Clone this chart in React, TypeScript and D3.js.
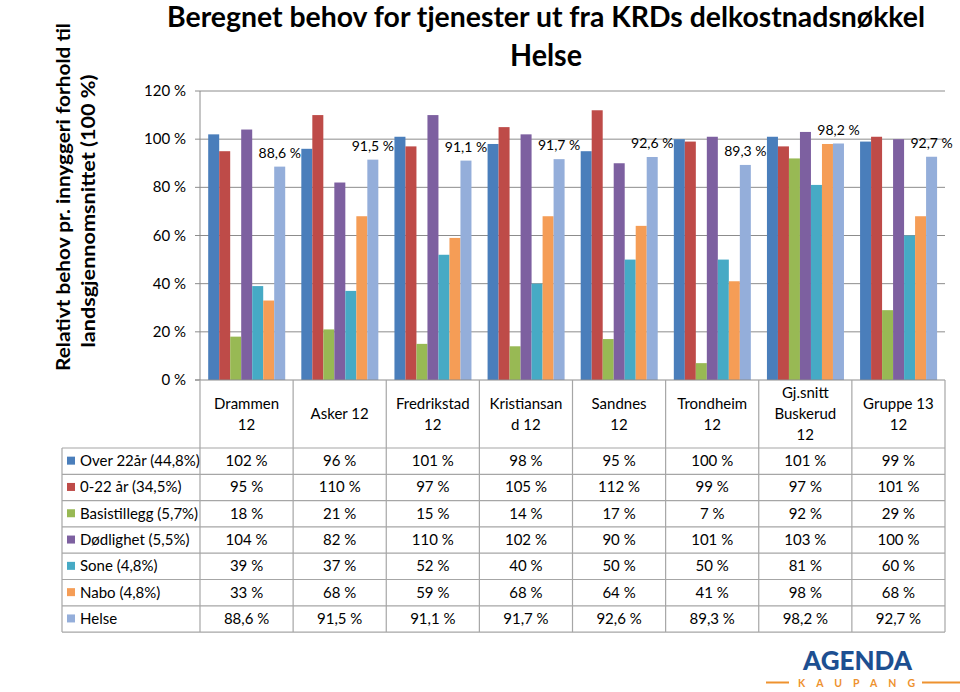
import React from "react";
import * as d3 from "d3";

const categories = [
  "Drammen\n12",
  "Asker 12",
  "Fredrikstad\n12",
  "Kristiansan\nd 12",
  "Sandnes\n12",
  "Trondheim\n12",
  "Gj.snitt\nBuskerud\n12",
  "Gruppe 13\n12",
];

const seriesNames = [
  "Over 22år (44,8%)",
  "0-22 år (34,5%)",
  "Basistillegg (5,7%)",
  "Dødlighet (5,5%)",
  "Sone (4,8%)",
  "Nabo (4,8%)",
  "Helse",
];

const seriesColors = ["#4A7EBB", "#BE4B48", "#98B954", "#7D60A0", "#46AAC5", "#F59D56", "#94AEDA"];

const over22 = [102, 96, 101, 98, 95, 100, 101, 99];
const age0to22 = [95, 110, 97, 105, 112, 99, 97, 101];
const basistillegg = [18, 21, 15, 14, 17, 7, 92, 29];
const dodlighet = [104, 82, 110, 102, 90, 101, 103, 100];
const sone = [39, 37, 52, 40, 50, 50, 81, 60];
const nabo = [33, 68, 59, 68, 64, 41, 98, 68];
const helse = [88.6, 91.5, 91.1, 91.7, 92.6, 89.3, 98.2, 92.7];

const seriesValues = [over22, age0to22, basistillegg, dodlighet, sone, nabo, helse];
const seriesDecimals = [0, 0, 0, 0, 0, 0, 1];

const yTicks = [0, 20, 40, 60, 80, 100, 120];

const FONT = "Lato, 'Open Sans', sans-serif";

const fmt = (v: number, d: number) => v.toFixed(d).replace(".", ",") + " %";

export default function App() {
  const W = 960;
  const H = 692;
  const plotLeft = 200;
  const plotRight = 945;
  const y0 = 380;
  const yTop = 91;
  const tableLeft = 62;
  const headerBottom = 448;
  const rowH = 26.3;

  const y = d3.scaleLinear().domain([0, 120]).range([y0, yTop]);
  const x = d3.scaleBand<string>().domain(categories).range([plotLeft, plotRight]).padding(0);
  const bw = x.bandwidth();
  const xs = d3
    .scaleBand<string>()
    .domain(seriesNames)
    .range([bw * 0.088, bw * 0.915])
    .padding(0);

  const gridColor = "#8C8C8C";
  const tableColor = "#A6A6A6";

  const tableBottom = headerBottom + rowH * seriesNames.length;

  return (
    <svg
      width={W}
      height={H}
      viewBox={`0 0 ${W} ${H}`}
      style={{ position: "absolute", left: 0, top: 0, background: "#fff" }}
      fontFamily={FONT}
    >
      <rect x={0} y={0} width={W} height={H} fill="#fff" />
      {/* Title */}
      <text x={546} y={27} fontSize={28} fontWeight="bold" textAnchor="middle" textLength={758} lengthAdjust="spacingAndGlyphs" fill="#000">
        Beregnet behov for tjenester ut fra KRDs delkostnadsnøkkel
      </text>
      <text x={546} y={66} fontSize={30} fontWeight="bold" textAnchor="middle" textLength={72} lengthAdjust="spacingAndGlyphs" fill="#000">
        Helse
      </text>

      {/* Y axis title */}
      <g transform="translate(70,197) rotate(-90)">
        <text x={0} y={0} fontSize={19} fontWeight="bold" textAnchor="middle" textLength={348} lengthAdjust="spacingAndGlyphs">
          Relativt behov pr. innyggeri forhold til
        </text>
      </g>
      <g transform="translate(95,211) rotate(-90)">
        <text x={0} y={0} fontSize={19} fontWeight="bold" textAnchor="middle" textLength={273} lengthAdjust="spacingAndGlyphs">
          landsgjennomsnittet (100 %)
        </text>
      </g>

      {/* Gridlines and y ticks */}
      {yTicks.map((t) => (
        <g key={t}>
          {t > 0 && <line x1={plotLeft} x2={plotRight} y1={y(t)} y2={y(t)} stroke={gridColor} strokeWidth={1} />}
          <line x1={plotLeft - 5} x2={plotLeft} y1={y(t)} y2={y(t)} stroke={gridColor} strokeWidth={1} />
          <text x={186} y={y(t) + 5} fontSize={15} textAnchor="end" fill="#000">
            {t} %
          </text>
        </g>
      ))}
      <line x1={plotLeft} x2={plotLeft} y1={yTop} y2={y0} stroke={gridColor} strokeWidth={1} />

      {/* Bars */}
      {categories.map((c, ci) => (
        <g key={c} transform={`translate(${x(c)},0)`}>
          {seriesNames.map((s, si) => {
            const v = seriesValues[si][ci];
            return (
              <rect
                key={s}
                x={xs(s)}
                y={y(v)}
                width={xs.bandwidth()}
                height={y0 - y(v)}
                fill={seriesColors[si]}
              />
            );
          })}
          <text
            x={(xs("Helse") as number) + xs.bandwidth() / 2}
            y={y(helse[ci]) - 9}
            fontSize={14}
            textAnchor="middle"
            fill="#000"
          >
            {fmt(helse[ci], 1)}
          </text>
        </g>
      ))}

      {/* Axis line */}
      <line x1={plotLeft - 5} x2={plotRight} y1={y0} y2={y0} stroke={gridColor} strokeWidth={1} />

      {/* Table */}
      <g stroke={tableColor} strokeWidth={1.2} fill="none">
        {categories.map((c) => (
          <line key={c} x1={x(c)} x2={x(c)} y1={y0} y2={tableBottom} />
        ))}
        <line x1={plotRight} x2={plotRight} y1={y0} y2={tableBottom} />
        <line x1={tableLeft} x2={tableLeft} y1={headerBottom} y2={tableBottom} />
        {d3.range(seriesNames.length + 1).map((i) => (
          <line key={i} x1={tableLeft} x2={plotRight} y1={headerBottom + i * rowH} y2={headerBottom + i * rowH} />
        ))}
      </g>

      {/* Header labels */}
      {categories.map((c) => {
        const lines = c.split("\n");
        const cx = (x(c) as number) + bw / 2;
        const mid = (y0 + headerBottom) / 2;
        const lh = 21;
        return (
          <text key={c} fontSize={15} textAnchor="middle" fill="#000">
            {lines.map((l, li) => (
              <tspan key={li} x={cx} y={mid + (li - (lines.length - 1) / 2) * lh + 5}>
                {l}
              </tspan>
            ))}
          </text>
        );
      })}

      {/* Rows */}
      {seriesNames.map((s, si) => {
        const cy = headerBottom + si * rowH + rowH / 2;
        return (
          <g key={s}>
            <rect x={67} y={cy - 4.5} width={8} height={8} fill={seriesColors[si]} />
            <text x={80} y={cy + 5} fontSize={15} fill="#000">
              {s}
            </text>
            {categories.map((c, ci) => (
              <text key={c} x={(x(c) as number) + bw / 2} y={cy + 5} fontSize={15} textAnchor="middle" fill="#000">
                {fmt(seriesValues[si][ci], seriesDecimals[si])}
              </text>
            ))}
          </g>
        );
      })}

      {/* Logo */}
      <text x={803} y={670} fontSize={26} fontWeight="900" fill="#1D4F91" textLength={109} lengthAdjust="spacingAndGlyphs">
        AGENDA
      </text>
      <text x={798} y={687} fontSize={10.5} fontWeight="bold" fill="#EE922F" textLength={117} lengthAdjust="spacing">
        KAUPANG
      </text>
      <line x1={766} x2={789} y1={682.5} y2={682.5} stroke="#EE922F" strokeWidth={2} />
      <line x1={922} x2={960} y1={682.5} y2={682.5} stroke="#EE922F" strokeWidth={2} />
    </svg>
  );
}
